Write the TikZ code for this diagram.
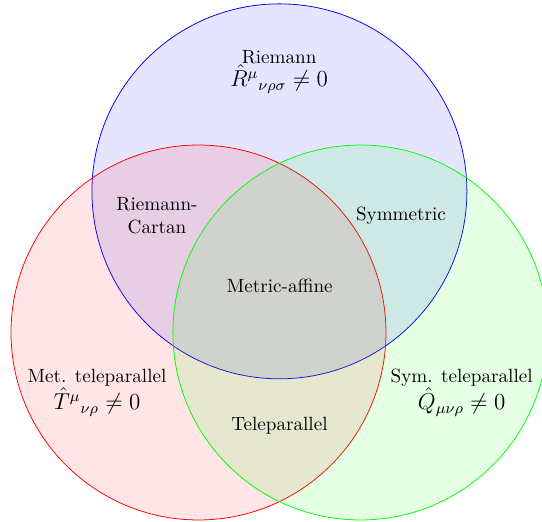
\documentclass[tikz,border=0pt]{standalone}
\usepackage{amsmath,amssymb}
\usetikzlibrary{positioning}
\tikzset{set/.style={fill opacity=.1,draw opacity=1},lbl/.style={align=center,inner sep=1pt}}
\begin{document}
\begin{tikzpicture}[x=1cm,y=1cm]
\useasboundingbox (-3.642,-3.477) rectangle (6.303,6.101);
\clip (-3.642,-3.477) rectangle (6.303,6.101);
\draw[set,blue,fill=blue] (1.485,2.59) circle (3.44);
\draw[set,red,fill=red] (0,0) circle (3.44);
\draw[set,green,fill=green] (2.97,0) circle (3.44);
\node[lbl] (riem) at (1.48,4.78){Riemann\\{\large$\hat{R}^{\mu}{}_{\nu\rho\sigma}\neq 0$}};
\node[lbl] (rc) at (-.761,2.147){Riemann-\\Cartan};
\node[lbl] (sym) at (3.716,2.139){Symmetric};
\node[lbl] (ma) at (1.491,.853){Metric-affine};
\node[lbl] (mtp) at (-1.862,-1.10){Met. teleparallel\\{\large$\hat{T}^{\mu}{}_{\nu\rho}\neq 0$}};
\node[lbl] (stp) at (4.829,-1.10){Sym. teleparallel\\{\large$\hat{Q}_{\mu\nu\rho}\neq 0$}};
\node[lbl] (tp) at (1.486,-1.714){Teleparallel};
\end{tikzpicture}
\end{document}
